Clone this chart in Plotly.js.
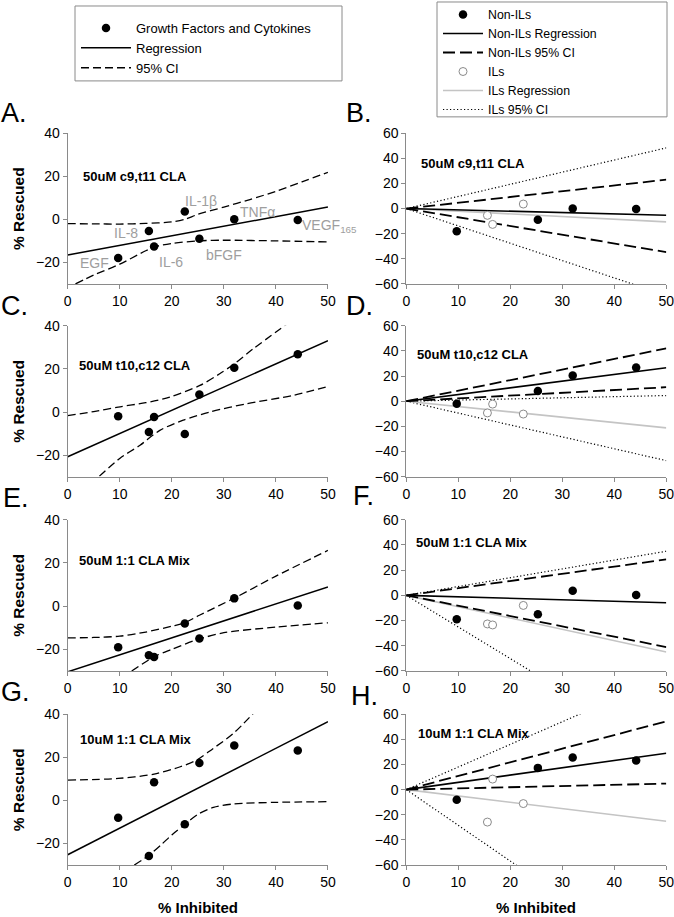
<!DOCTYPE html>
<html>
<head>
<meta charset="utf-8">
<script src="https://cdn.plot.ly/plotly-3.0.1.min.js"></script>
<style>html,body{margin:0;padding:0;background:#fff;}#chart{width:674px;height:917px;}</style>
</head>
<body>
<div id="chart"></div>
<script>
// ---------- data ----------
const factors = ['EGF', 'IL-8', 'IL-6', 'IL-1β', 'bFGF', 'TNFα', 'VEGF<sub>165</sub>'];
const isIL = [false, true, true, true, false, false, false];
const pctInhibited = [9.7, 15.6, 16.6, 22.5, 25.3, 32.0, 44.2];

const rescuedA = [-18.0, -5.4, -12.6, 3.6, -9.0, 0.0, -0.3];   // 50uM c9,t11 CLA
const rescuedC = [-2.0, -9.3, -2.3, -10.2, 8.1, 20.5, 26.8];   // 50uM t10,c12 CLA
const rescuedE = [-19.0, -22.7, -23.5, -8.0, -15.0, 3.6, 0.3]; // 50uM 1:1 CLA Mix
const rescuedG = [-8.1, -25.8, 8.4, -11.1, 17.3, 25.5, 23.2];  // 10uM 1:1 CLA Mix

const conditions = ['50uM c9,t11 CLA', '50uM t10,c12 CLA', '50uM 1:1 CLA Mix', '10uM 1:1 CLA Mix'];
const panelLetters = ['A.', 'B.', 'C.', 'D.', 'E.', 'F.', 'G.', 'H.'];

// left column: regression and 95% CI
const regX = [0, 50];
const regA = [-16.6, 5.7];
const regC = [-20.7, 33.0];
const regE = [-30.4, 8.9];
const regG = [-25.2, 36.5];

const ciUpAx = [0, 5, 10, 15, 20, 22.5, 25, 30, 35, 40, 45, 50];
const ciUpAy = [-2.0, -2.1, -2.2, -1.9, -1.2, 0.0, 2.3, 5.7, 9.2, 13.0, 17.4, 21.8];
const ciLoAx = [1.5, 5, 10, 15, 17, 20, 25, 30, 40, 50];
const ciLoAy = [-30, -25.9, -20.8, -14.6, -12.6, -11.2, -10.0, -9.7, -10.0, -10.5];

const ciUpCx = [0, 5, 9.7, 15, 19.6, 25.4, 29.2, 32, 35.6, 42];
const ciUpCy = [-1.7, 0.2, 2.3, 4.3, 6.9, 12.3, 17.7, 22.3, 29.2, 40.5];
const ciLoCx = [6.1, 10, 13.9, 17.7, 22.2, 27.3, 34.3, 43.3, 50];
const ciLoCy = [-29.7, -21.5, -15.4, -8.5, -3.8, 0.0, 3.8, 7.7, 11.8];

const ciUpEx = [0, 5, 10, 15, 20, 22.5, 25.3, 32, 40, 50];
const ciUpEy = [-14.7, -14.5, -13.9, -12.0, -9.3, -7.7, -4.2, 3.7, 13.9, 25.8];
const ciLoEx = [12.3, 16.7, 20, 25, 30, 40, 50];
const ciLoEy = [-30, -23.3, -20.0, -15.4, -12.3, -9.7, -7.7];

const ciUpGx = [0, 9.7, 16.6, 21.5, 24.7, 27.9, 31.8, 35.9];
const ciUpGy = [9.4, 10.2, 12.2, 15.5, 18.6, 24.0, 31.0, 41.0];
const ciLoGx = [12.8, 15.6, 18, 20, 22.5, 25, 28, 32, 40, 50];
const ciLoGy = [-30, -25.5, -20.5, -16.0, -11.2, -6.5, -3.2, -1.6, -0.9, -0.6];

// right column: lines through the origin (values at x = 0 and x = 50)
const originX = [0, 50];
const bNonIlReg = [0, -5.3], bNonIlCiUp = [0, 23.0], bNonIlCiLo = [0, -34.7];
const bIlReg = [0, -10.6], bIlCiUp = [0, 48.3], bIlCiLo = [0, -69.0];
const dNonIlReg = [0, 26.5], dNonIlCiUp = [0, 41.9], dNonIlCiLo = [0, 11.1];
const dIlReg = [0, -21.2], dIlCiUp = [0, 4.5], dIlCiLo = [0, -47.2];
const fNonIlReg = [0, -5.9], fNonIlCiUp = [0, 28.5], fNonIlCiLo = [0, -41.0];
const fIlReg = [0, -45.0], fIlCiUp = [0, 35.0], fIlCiLo = [0, -125.5];
const hNonIlReg = [0, 29.0], hNonIlCiUp = [0, 54.3], hNonIlCiLo = [0, 4.8];
const hIlReg = [0, -25.2], hIlCiUp = [0, 90.0], hIlCiLo = [0, -142.0];

// ---------- styles ----------
const FONT = 'Liberation Sans, Arial, sans-serif';
const AXIS_GRAY = '#8a8a8a';
const leftDash = '8px,4px';
const rightDash = '12px,5px';
const dotDash = '1.2px,2.3px';

const traces = [];

const leftPanels = [
  {ax: '', y: rescuedA, reg: regA, ux: ciUpAx, uy: ciUpAy, lx: ciLoAx, ly: ciLoAy},
  {ax: '3', y: rescuedC, reg: regC, ux: ciUpCx, uy: ciUpCy, lx: ciLoCx, ly: ciLoCy},
  {ax: '5', y: rescuedE, reg: regE, ux: ciUpEx, uy: ciUpEy, lx: ciLoEx, ly: ciLoEy},
  {ax: '7', y: rescuedG, reg: regG, ux: ciUpGx, uy: ciUpGy, lx: ciLoGx, ly: ciLoGy}
];

leftPanels.forEach((p, i) => {
  const xa = 'x' + p.ax, ya = 'y' + p.ax;
  const first = i === 0;
  traces.push({x: regX, y: p.reg, xaxis: xa, yaxis: ya, mode: 'lines', name: 'Regression',
    line: {color: '#000', width: 1.5}, showlegend: first, legend: 'legend', legendrank: 2, hoverinfo: 'skip'});
  traces.push({x: p.ux, y: p.uy, xaxis: xa, yaxis: ya, mode: 'lines', name: '95% CI',
    line: {color: '#000', width: 1.3, dash: leftDash, shape: 'spline', smoothing: 0.8}, showlegend: first, legend: 'legend', legendrank: 3, hoverinfo: 'skip'});
  traces.push({x: p.lx, y: p.ly, xaxis: xa, yaxis: ya, mode: 'lines', name: '95% CI',
    line: {color: '#000', width: 1.3, dash: leftDash, shape: 'spline', smoothing: 0.8}, showlegend: false, legend: 'legend', hoverinfo: 'skip'});
  traces.push({x: pctInhibited, y: p.y, xaxis: xa, yaxis: ya, mode: 'markers', name: 'Growth Factors and Cytokines',
    marker: {color: '#000', size: 8.5}, showlegend: first, legend: 'legend', legendrank: 1, cliponaxis: false});
});

const rightPanels = [
  {ax: '2', y: rescuedA, nr: bNonIlReg, nu: bNonIlCiUp, nl: bNonIlCiLo, ir: bIlReg, iu: bIlCiUp, il: bIlCiLo},
  {ax: '4', y: rescuedC, nr: dNonIlReg, nu: dNonIlCiUp, nl: dNonIlCiLo, ir: dIlReg, iu: dIlCiUp, il: dIlCiLo},
  {ax: '6', y: rescuedE, nr: fNonIlReg, nu: fNonIlCiUp, nl: fNonIlCiLo, ir: fIlReg, iu: fIlCiUp, il: fIlCiLo},
  {ax: '8', y: rescuedG, nr: hNonIlReg, nu: hNonIlCiUp, nl: hNonIlCiLo, ir: hIlReg, iu: hIlCiUp, il: hIlCiLo}
];

rightPanels.forEach((p, i) => {
  const xa = 'x' + p.ax, ya = 'y' + p.ax;
  const first = i === 0;
  const ilX = pctInhibited.filter((v, k) => isIL[k]);
  const ilY = p.y.filter((v, k) => isIL[k]);
  const nX = pctInhibited.filter((v, k) => !isIL[k]);
  const nY = p.y.filter((v, k) => !isIL[k]);
  traces.push({x: originX, y: p.iu, xaxis: xa, yaxis: ya, mode: 'lines', name: 'ILs 95% CI',
    line: {color: '#000', width: 1.2, dash: dotDash}, showlegend: first, legend: 'legend2', legendrank: 6, hoverinfo: 'skip'});
  traces.push({x: originX, y: p.il, xaxis: xa, yaxis: ya, mode: 'lines', name: 'ILs 95% CI',
    line: {color: '#000', width: 1.2, dash: dotDash}, showlegend: false, legend: 'legend2', hoverinfo: 'skip'});
  traces.push({x: originX, y: p.ir, xaxis: xa, yaxis: ya, mode: 'lines', name: 'ILs Regression',
    line: {color: '#c4c4c4', width: 1.6}, showlegend: first, legend: 'legend2', legendrank: 5, hoverinfo: 'skip'});
  traces.push({x: originX, y: p.nu, xaxis: xa, yaxis: ya, mode: 'lines', name: 'Non-ILs 95% CI',
    line: {color: '#000', width: 1.8, dash: rightDash}, showlegend: first, legend: 'legend2', legendrank: 3, hoverinfo: 'skip'});
  traces.push({x: originX, y: p.nl, xaxis: xa, yaxis: ya, mode: 'lines', name: 'Non-ILs 95% CI',
    line: {color: '#000', width: 1.8, dash: rightDash}, showlegend: false, legend: 'legend2', hoverinfo: 'skip'});
  traces.push({x: originX, y: p.nr, xaxis: xa, yaxis: ya, mode: 'lines', name: 'Non-ILs Regression',
    line: {color: '#000', width: 1.6}, showlegend: first, legend: 'legend2', legendrank: 2, hoverinfo: 'skip'});
  traces.push({x: ilX, y: ilY, xaxis: xa, yaxis: ya, mode: 'markers', name: 'ILs',
    marker: {color: '#fff', size: 8, line: {color: '#8a8a8a', width: 1}}, showlegend: first, legend: 'legend2', legendrank: 4});
  traces.push({x: nX, y: nY, xaxis: xa, yaxis: ya, mode: 'markers', name: 'Non-ILs',
    marker: {color: '#000', size: 8.5}, showlegend: first, legend: 'legend2', legendrank: 1});
});

// ---------- layout ----------
const leftDom = [0.1004, 0.4866], rightDom = [0.6028, 0.9886];
const rowDom = [[0.6911, 0.8557], [0.4806, 0.6456], [0.2686, 0.4337], [0.0567, 0.2214]];

function xAxis(dom, anchor) {
  return {domain: dom, anchor: anchor, range: [0, 50], tick0: 0, dtick: 10, showline: true, linecolor: AXIS_GRAY,
    linewidth: 1, ticks: 'outside', ticklen: 4, tickcolor: AXIS_GRAY, showgrid: false, zeroline: false,
    ticklabeloverflow: 'allow', tickfont: {family: FONT, size: 14, color: '#000'}, fixedrange: true};
}
function yAxis(dom, anchor, left) {
  const a = {domain: dom, anchor: anchor, showline: true, linecolor: AXIS_GRAY, linewidth: 1, ticks: 'outside',
    ticklen: 4, tickcolor: AXIS_GRAY, showgrid: false, zeroline: false, ticklabeloverflow: 'allow',
    tickfont: {family: FONT, size: 14, color: '#000'}, fixedrange: true};
  if (left) { a.range = [-30, 40]; a.tickvals = [-20, 0, 20, 40]; }
  else { a.range = [-60, 60]; a.tick0 = -60; a.dtick = 20; }
  return a;
}

const layout = {
  width: 674, height: 917, margin: {l: 0, r: 0, t: 0, b: 0}, paper_bgcolor: '#fff', plot_bgcolor: '#fff',
  font: {family: FONT, color: '#000'},
  showlegend: true,
  legend: {x: 76 / 674, y: 1 - 13 / 917, xanchor: 'left', yanchor: 'top', borderwidth: 0,
    bgcolor: 'rgba(0,0,0,0)', font: {family: FONT, size: 13}, itemwidth: 50, traceorder: 'normal', tracegroupgap: 0},
  legend2: {x: 438 / 674, y: 1 + 1 / 917, xanchor: 'left', yanchor: 'top', borderwidth: 0,
    bgcolor: 'rgba(0,0,0,0)', font: {family: FONT, size: 12.3}, itemwidth: 40, traceorder: 'normal', tracegroupgap: 0},
  shapes: [
    {type: 'rect', xref: 'paper', yref: 'paper', x0: 75 / 674, x1: 342 / 674, y0: 1 - 80 / 917, y1: 1 - 5 / 917,
      line: {color: '#8a8a8a', width: 1}, fillcolor: 'rgba(0,0,0,0)', layer: 'below'},
    {type: 'rect', xref: 'paper', yref: 'paper', x0: 437 / 674, x1: 667 / 674, y0: 1 - 116 / 917, y1: 1 - 1 / 917,
      line: {color: '#8a8a8a', width: 1}, fillcolor: 'rgba(0,0,0,0)', layer: 'below'}
  ],
  annotations: []
};

const axNames = ['', '2', '3', '4', '5', '6', '7', '8'];
axNames.forEach((n, i) => {
  const row = Math.floor(i / 2), left = i % 2 === 0;
  layout['xaxis' + n] = xAxis(left ? leftDom : rightDom, 'y' + n);
  layout['yaxis' + n] = yAxis(rowDom[row], 'x' + n, left);
});

// panel letters
const letterPos = [[0, 112.5], [345, 112.5], [0, 305], [345, 305], [2, 497.5], [352, 496], [0, 692], [350, 696]];
panelLetters.forEach((t, i) => {
  layout.annotations.push({text: t, xref: 'paper', yref: 'paper', x: letterPos[i][0] / 674, y: 1 - letterPos[i][1] / 917,
    xanchor: 'left', yanchor: 'middle', showarrow: false, borderpad: 0, font: {family: FONT, size: 27, color: '#000'}});
});

// condition labels inside panels
const condPos = [[0.055, 0.714], [0.052, 0.80], [0.040, 0.735], [0.037, 0.81], [0.040, 0.731], [0.035, 0.852], [0.043, 0.834], [0.041, 0.872]];
axNames.forEach((n, i) => {
  layout.annotations.push({text: '<b>' + conditions[Math.floor(i / 2)] + '</b>', xref: 'x' + n + ' domain', yref: 'y' + n + ' domain',
    x: condPos[i][0], y: condPos[i][1], xanchor: 'left', yanchor: 'middle', showarrow: false, borderpad: 0,
    font: {family: FONT, size: 13, color: '#000'}});
});

// axis titles
rowDom.forEach(d => {
  layout.annotations.push({text: '<b>% Rescued</b>', xref: 'paper', yref: 'paper', x: 18.5 / 674, y: (d[0] + d[1]) / 2,
    xanchor: 'center', yanchor: 'middle', textangle: -90, showarrow: false, font: {family: FONT, size: 15.5, color: '#000'}});
});
[leftDom, rightDom].forEach(d => {
  layout.annotations.push({text: '<b>% Inhibited</b>', xref: 'paper', yref: 'paper', x: (d[0] + d[1]) / 2, y: 1 - 907 / 917,
    xanchor: 'center', yanchor: 'middle', showarrow: false, font: {family: FONT, size: 15, color: '#000'}});
});

// factor labels in panel A
const labelStyle = [
  {xanchor: 'right', xshift: -8, yshift: -5},
  {xanchor: 'right', xshift: -10, yshift: -2},
  {xanchor: 'left', xshift: 4, yshift: -16},
  {xanchor: 'left', xshift: -1, yshift: 11},
  {xanchor: 'left', xshift: 6, yshift: -16},
  {xanchor: 'left', xshift: 5, yshift: 7},
  {xanchor: 'left', xshift: 3, yshift: -6}
];
factors.forEach((f, i) => {
  layout.annotations.push(Object.assign({text: f, xref: 'x', yref: 'y', x: pctInhibited[i], y: rescuedA[i],
    yanchor: 'middle', showarrow: false, borderpad: 0, font: {family: FONT, size: 14, color: '#9e9e9e'}}, labelStyle[i]));
});

Plotly.newPlot('chart', traces, layout, {staticPlot: true, displayModeBar: false});
</script>
</body>
</html>
